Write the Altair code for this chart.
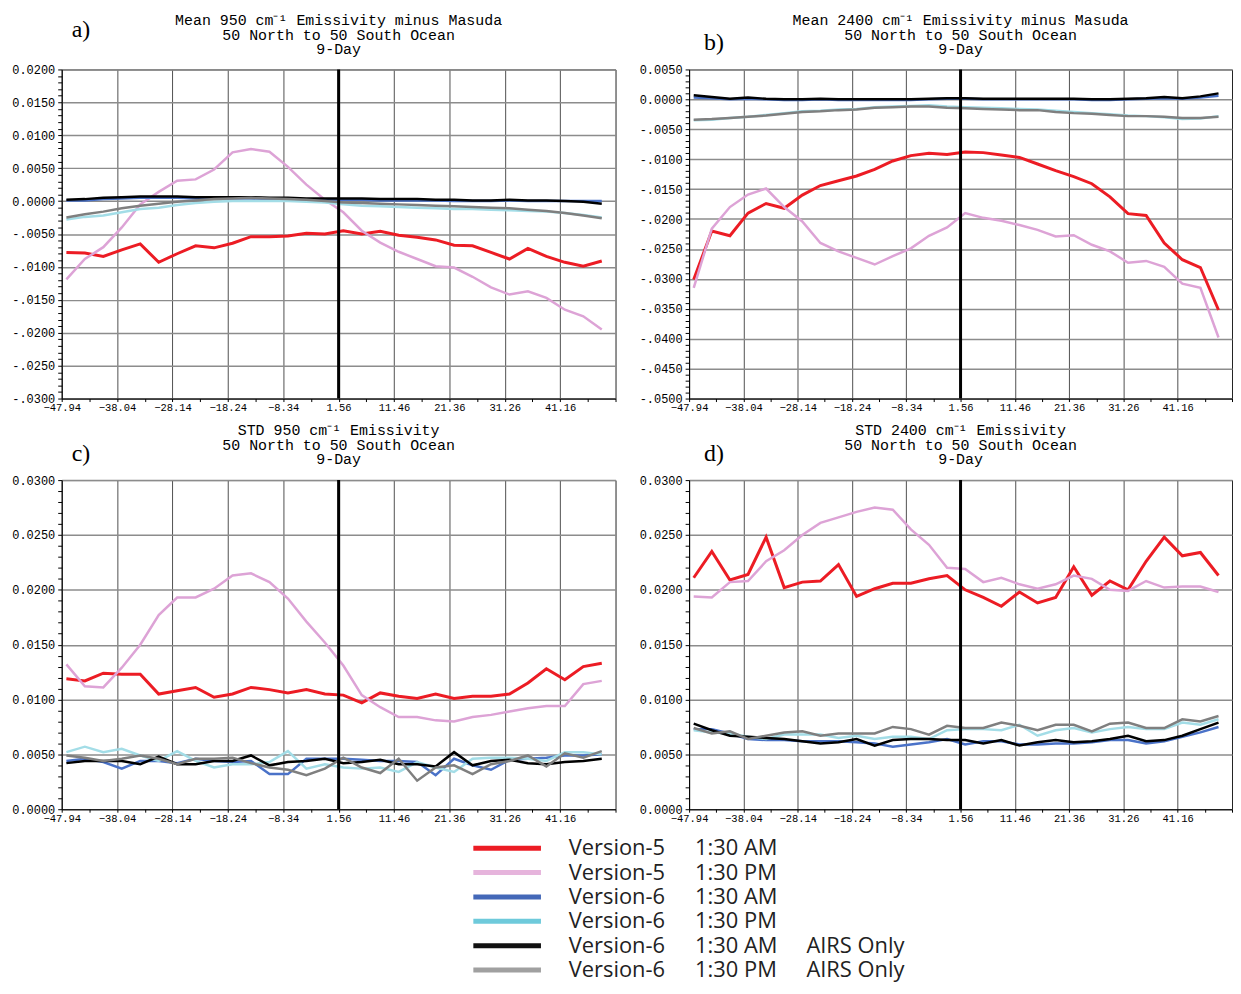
import altair as alt
import pandas as pd

# ---------------- data ----------------
lat = [-47.1, -43.8, -40.5, -37.2, -33.9, -30.6, -27.3, -24.0, -20.7, -17.4,
       -14.1, -10.8, -7.5, -4.2, -0.9, 2.4, 5.7, 9.0, 12.3, 15.6,
       18.9, 22.2, 25.5, 28.8, 32.1, 35.4, 38.7, 42.0, 45.3, 48.6]

series_names = ["Version-5 1:30 AM", "Version-5 1:30 PM", "Version-6 1:30 AM",
                "Version-6 1:30 PM", "Version-6 1:30 AM AIRS Only", "Version-6 1:30 PM AIRS Only"]
series_colors = ["#ec1c24", "#dda3d6", "#4a72c8", "#a3dde7", "#000000", "#7f7f7f"]
legend_colors = ["#ec1c24", "#e6b4dc", "#4468b8", "#6ecadb", "#111111", "#a0a0a0"]
legend_version = ["Version-5", "Version-5", "Version-6", "Version-6", "Version-6", "Version-6"]
legend_time = ["1:30 AM", "1:30 PM", "1:30 AM", "1:30 PM", "1:30 AM", "1:30 PM"]
legend_extra = ["", "", "", "", "AIRS Only", "AIRS Only"]

x_tick_labels = [-47.94, -38.04, -28.14, -18.24, -8.34, 1.56, 11.46, 21.36, 31.26, 41.16]
x_domain = [-47.94, 51.06]
equator_line = [1.56]

# panel a: Mean 950 cm-1 minus Masuda
a_v5_am = [-0.0078, -0.0079, -0.0084, -0.0074, -0.0065, -0.0093, -0.0080, -0.0068, -0.0071, -0.0064,
           -0.0054, -0.0054, -0.0053, -0.0049, -0.0050, -0.0045, -0.0050, -0.0046, -0.0052, -0.0055,
           -0.0059, -0.0067, -0.0068, -0.0078, -0.0088, -0.0072, -0.0084, -0.0093, -0.0099, -0.0091]
a_v5_pm = [-0.0119, -0.0088, -0.0070, -0.0040, -0.0005, 0.0014, 0.0031, 0.0033, 0.0048, 0.0074,
           0.0079, 0.0075, 0.0052, 0.0025, 0.0002, -0.0017, -0.0045, -0.0063, -0.0077, -0.0088,
           -0.0099, -0.0101, -0.0115, -0.0131, -0.0142, -0.0137, -0.0147, -0.0165, -0.0175, -0.0195]
a_v6_am = [0.0001, 0.0001, 0.0003, 0.0004, 0.0005, 0.0005, 0.0005, 0.0004, 0.0004, 0.0004,
           0.0004, 0.0003, 0.0003, 0.0002, 0.0002, 0.0002, 0.0002, 0.0001, 0.0001, 0.0001,
           0.0001, 0.0000, 0.0000, 0.0000, 0.0001, 0.0000, 0.0000, 0.0000, 0.0000, 0.0000]
a_v6_pm = [-0.0028, -0.0024, -0.0022, -0.0017, -0.0012, -0.0010, -0.0006, -0.0003, -0.0001, 0.0000,
           0.0000, 0.0000, 0.0000, -0.0001, -0.0002, -0.0005, -0.0007, -0.0008, -0.0009, -0.0010,
           -0.0011, -0.0012, -0.0012, -0.0013, -0.0014, -0.0015, -0.0016, -0.0018, -0.0021, -0.0025]
a_v6_am_airs = [0.0002, 0.0003, 0.0005, 0.0006, 0.0007, 0.0007, 0.0007, 0.0006, 0.0006, 0.0006,
                0.0006, 0.0005, 0.0005, 0.0004, 0.0004, 0.0004, 0.0004, 0.0003, 0.0003, 0.0003,
                0.0002, 0.0002, 0.0001, 0.0001, 0.0002, 0.0001, 0.0001, 0.0000, -0.0001, -0.0004]
a_v6_pm_airs = [-0.0025, -0.0020, -0.0016, -0.0011, -0.0007, -0.0004, -0.0001, 0.0001, 0.0003, 0.0004,
                0.0005, 0.0004, 0.0003, 0.0002, 0.0000, -0.0002, -0.0003, -0.0004, -0.0005, -0.0006,
                -0.0007, -0.0008, -0.0009, -0.0010, -0.0011, -0.0013, -0.0015, -0.0018, -0.0022, -0.0026]

# panel b: Mean 2400 cm-1 minus Masuda
b_v5_am = [-0.0301, -0.0220, -0.0228, -0.0190, -0.0174, -0.0182, -0.0160, -0.0144, -0.0136, -0.0128,
           -0.0117, -0.0103, -0.0094, -0.0090, -0.0092, -0.0088, -0.0089, -0.0093, -0.0097, -0.0108,
           -0.0119, -0.0129, -0.0141, -0.0163, -0.0191, -0.0194, -0.0240, -0.0268, -0.0281, -0.0352]
b_v5_pm = [-0.0315, -0.0216, -0.0180, -0.0159, -0.0149, -0.0180, -0.0204, -0.0240, -0.0254, -0.0265,
           -0.0276, -0.0262, -0.0249, -0.0228, -0.0214, -0.0190, -0.0198, -0.0203, -0.0210, -0.0218,
           -0.0229, -0.0227, -0.0243, -0.0254, -0.0273, -0.0270, -0.0280, -0.0308, -0.0315, -0.0398]
b_v6_am = [0.0003, 0.0002, 0.0000, 0.0001, 0.0000, -0.0001, -0.0001, 0.0000, -0.0001, -0.0001,
           -0.0001, -0.0001, -0.0001, 0.0000, 0.0001, 0.0001, 0.0000, 0.0000, 0.0000, 0.0000,
           0.0000, 0.0000, -0.0001, -0.0001, 0.0000, 0.0001, 0.0002, 0.0001, 0.0003, 0.0006]
b_v6_pm = [-0.0035, -0.0034, -0.0031, -0.0029, -0.0026, -0.0023, -0.0020, -0.0019, -0.0017, -0.0016,
           -0.0013, -0.0012, -0.0011, -0.0010, -0.0012, -0.0013, -0.0014, -0.0015, -0.0016, -0.0017,
           -0.0019, -0.0021, -0.0023, -0.0025, -0.0027, -0.0028, -0.0030, -0.0033, -0.0032, -0.0028]
b_v6_am_airs = [0.0007, 0.0004, 0.0001, 0.0003, 0.0001, 0.0000, 0.0000, 0.0001, 0.0000, 0.0000,
                0.0000, 0.0000, 0.0000, 0.0001, 0.0002, 0.0002, 0.0001, 0.0001, 0.0001, 0.0001,
                0.0001, 0.0001, 0.0000, 0.0000, 0.0001, 0.0002, 0.0004, 0.0002, 0.0005, 0.0010]
b_v6_pm_airs = [-0.0034, -0.0033, -0.0031, -0.0029, -0.0027, -0.0024, -0.0021, -0.0020, -0.0018, -0.0017,
                -0.0014, -0.0013, -0.0012, -0.0012, -0.0014, -0.0015, -0.0016, -0.0017, -0.0018, -0.0018,
                -0.0021, -0.0023, -0.0024, -0.0026, -0.0028, -0.0028, -0.0029, -0.0031, -0.0031, -0.0029]

# panel c: STD 950 cm-1
c_v5_am = [0.0119, 0.0117, 0.0124, 0.0123, 0.0123, 0.0105, 0.0108, 0.0111, 0.0102, 0.0105,
           0.0111, 0.0109, 0.0106, 0.0109, 0.0105, 0.0104, 0.0097, 0.0106, 0.0103, 0.0101,
           0.0105, 0.0101, 0.0103, 0.0103, 0.0105, 0.0115, 0.0128, 0.0118, 0.0130, 0.0133]
c_v5_pm = [0.0132, 0.0112, 0.0111, 0.0129, 0.0150, 0.0177, 0.0193, 0.0193, 0.0201, 0.0213,
           0.0215, 0.0207, 0.0192, 0.0171, 0.0152, 0.0131, 0.0104, 0.0093, 0.0084, 0.0084,
           0.0081, 0.0080, 0.0084, 0.0086, 0.0089, 0.0092, 0.0094, 0.0094, 0.0114, 0.0117]
c_v6_am = [0.0044, 0.0046, 0.0043, 0.0037, 0.0044, 0.0044, 0.0042, 0.0046, 0.0044, 0.0043,
           0.0044, 0.0032, 0.0032, 0.0046, 0.0046, 0.0046, 0.0045, 0.0044, 0.0044, 0.0043,
           0.0031, 0.0046, 0.0040, 0.0036, 0.0045, 0.0046, 0.0047, 0.0049, 0.0049, 0.0050]
c_v6_pm = [0.0052, 0.0057, 0.0052, 0.0055, 0.0049, 0.0044, 0.0053, 0.0044, 0.0038, 0.0041,
           0.0041, 0.0043, 0.0053, 0.0037, 0.0041, 0.0038, 0.0037, 0.0038, 0.0034, 0.0043,
           0.0038, 0.0034, 0.0046, 0.0047, 0.0047, 0.0046, 0.0044, 0.0052, 0.0052, 0.0050]
c_v6_am_airs = [0.0042, 0.0044, 0.0044, 0.0044, 0.0041, 0.0048, 0.0041, 0.0041, 0.0044, 0.0044,
                0.0049, 0.0040, 0.0043, 0.0044, 0.0046, 0.0042, 0.0043, 0.0045, 0.0041, 0.0041,
                0.0039, 0.0052, 0.0040, 0.0044, 0.0045, 0.0042, 0.0041, 0.0043, 0.0044, 0.0046]
c_v6_pm_airs = [0.0049, 0.0047, 0.0044, 0.0046, 0.0049, 0.0046, 0.0041, 0.0046, 0.0046, 0.0047,
                0.0042, 0.0038, 0.0036, 0.0031, 0.0037, 0.0047, 0.0038, 0.0033, 0.0046, 0.0026,
                0.0038, 0.0040, 0.0032, 0.0041, 0.0044, 0.0049, 0.0039, 0.0051, 0.0047, 0.0053]

# panel d: STD 2400 cm-1
d_v5_am = [0.0211, 0.0235, 0.0209, 0.0214, 0.0248, 0.0202, 0.0207, 0.0208, 0.0223, 0.0194,
           0.0201, 0.0206, 0.0206, 0.0210, 0.0213, 0.0200, 0.0193, 0.0185, 0.0198, 0.0188,
           0.0193, 0.0221, 0.0195, 0.0208, 0.0200, 0.0226, 0.0248, 0.0231, 0.0234, 0.0213]
d_v5_pm = [0.0194, 0.0193, 0.0207, 0.0208, 0.0226, 0.0236, 0.0250, 0.0261, 0.0266, 0.0271,
           0.0275, 0.0273, 0.0255, 0.0241, 0.0220, 0.0219, 0.0207, 0.0211, 0.0205, 0.0201,
           0.0205, 0.0213, 0.0210, 0.0200, 0.0199, 0.0208, 0.0202, 0.0203, 0.0203, 0.0198]
d_v6_am = [0.0073, 0.0073, 0.0069, 0.0064, 0.0063, 0.0063, 0.0062, 0.0062, 0.0062, 0.0061,
           0.0060, 0.0057, 0.0059, 0.0061, 0.0064, 0.0059, 0.0062, 0.0062, 0.0059, 0.0059,
           0.0060, 0.0060, 0.0061, 0.0063, 0.0063, 0.0060, 0.0062, 0.0066, 0.0070, 0.0075]
d_v6_pm = [0.0072, 0.0070, 0.0069, 0.0066, 0.0064, 0.0068, 0.0068, 0.0068, 0.0065, 0.0067,
           0.0064, 0.0066, 0.0066, 0.0064, 0.0072, 0.0073, 0.0073, 0.0072, 0.0077, 0.0067,
           0.0072, 0.0074, 0.0070, 0.0073, 0.0075, 0.0073, 0.0073, 0.0079, 0.0077, 0.0082]
d_v6_am_airs = [0.0078, 0.0072, 0.0067, 0.0066, 0.0065, 0.0064, 0.0062, 0.0060, 0.0061, 0.0064,
                0.0058, 0.0063, 0.0064, 0.0064, 0.0063, 0.0063, 0.0060, 0.0063, 0.0058, 0.0061,
                0.0063, 0.0061, 0.0062, 0.0064, 0.0067, 0.0062, 0.0063, 0.0067, 0.0073, 0.0079]
d_v6_pm_airs = [0.0074, 0.0069, 0.0071, 0.0064, 0.0067, 0.0070, 0.0071, 0.0067, 0.0069, 0.0069,
                0.0069, 0.0075, 0.0073, 0.0068, 0.0076, 0.0074, 0.0074, 0.0079, 0.0076, 0.0072,
                0.0077, 0.0077, 0.0071, 0.0078, 0.0079, 0.0074, 0.0074, 0.0082, 0.0080, 0.0085]

a_major = [-0.03, -0.025, -0.02, -0.015, -0.01, -0.005, 0.0, 0.005, 0.01, 0.015, 0.02]
b_major = [-0.05, -0.045, -0.04, -0.035, -0.03, -0.025, -0.02, -0.015, -0.01, -0.005, 0.0, 0.005]
cd_major = [0.0, 0.005, 0.01, 0.015, 0.02, 0.025, 0.03]

title_a = ["Mean 950 cm⁻¹ Emissivity minus Masuda", "50 North to 50 South Ocean", "9-Day"]
title_b = ["Mean 2400 cm⁻¹ Emissivity minus Masuda", "50 North to 50 South Ocean", "9-Day"]
title_c = ["STD  950 cm⁻¹ Emissivity", "50 North to 50 South Ocean", "9-Day"]
title_d = ["STD  2400 cm⁻¹ Emissivity", "50 North to 50 South Ocean", "9-Day"]

# ---------------- helpers ----------------
MONO = "Liberation Mono"
x_tick_values = [round(x_domain[0] + 4.95 * i, 2) for i in range(21)]
X_MAJOR = "abs((datum.value + 47.94) / 9.9 - round((datum.value + 47.94) / 9.9)) < 0.01"
X_LABEL_EXPR = f"({X_MAJOR}) && datum.value < 45 ? format(datum.value, '.2f') : ''"
X_GRID_TEST = f"({X_MAJOR}) && datum.value > -47 && datum.value < 50"
Y_MAJOR = "abs(datum.value * 200 - round(datum.value * 200)) < 0.01"
Y_LABEL_EXPR = (f"({Y_MAJOR}) ? (datum.value < -0.00001 ? '-' + substring(format(-datum.value, '.4f'), 1)"
                f" : format(abs(datum.value), '.4f')) : ''")


def minor_values(major):
    lo, hi = min(major), max(major)
    n = int(round((hi - lo) / 0.001))
    return [round(lo + 0.001 * i, 4) for i in range(n + 1)]


def make_panel(values, major, title_lines, letter, letter_x, letter_y, width, height):
    xenc = alt.X("lat:Q", scale=alt.Scale(domain=x_domain, nice=False, zero=False),
                 axis=alt.Axis(values=x_tick_values, title=None, labelExpr=X_LABEL_EXPR,
                               labelOverlap=False, labelFlush=False, labelFont=MONO, labelFontSize=10.5,
                               labelPadding=1, tickSize=3, grid=True, gridColor="#505050",
                               gridWidth=1, domainColor="black", tickColor="black",
                               gridOpacity={"condition": {"test": X_GRID_TEST, "value": 1}, "value": 0}))
    yenc = alt.Y("value:Q", scale=alt.Scale(domain=[min(major), max(major)], nice=False, zero=False),
                 axis=alt.Axis(values=minor_values(major), title=None, labelExpr=Y_LABEL_EXPR,
                               labelOverlap=False, labelFlush=False, labelFont=MONO, labelFontSize=12,
                               labelPadding=3, tickSize=4, grid=True, gridColor="#8c8c8c",
                               gridWidth=1.5, domainColor="black", tickColor="black",
                               gridOpacity={"condition": {"test": Y_MAJOR, "value": 1}, "value": 0}))
    layers = []
    for name, color, vals in zip(series_names, series_colors, values):
        df = pd.DataFrame({"lat": lat, "value": vals, "series": name})
        sw = 3 if color == "#ec1c24" else 2.5
        layers.append(alt.Chart(df).mark_line(color=color, strokeWidth=sw).encode(x=xenc, y=yenc))
    rule = alt.Chart(pd.DataFrame({"lat": equator_line})).mark_rule(
        color="black", strokeWidth=3).encode(x=xenc)
    lab = alt.Chart(pd.DataFrame({"t": [letter]})).mark_text(
        font="Liberation Serif", fontSize=24, align="left", baseline="alphabetic", color="black"
    ).encode(x=alt.value(letter_x), y=alt.value(letter_y), text="t:N")
    title_layers = []
    for line, ty in zip(title_lines, [-45, -30, -16]):
        title_layers.append(alt.Chart(pd.DataFrame({"t": [line]})).mark_text(
            font=MONO, fontSize=15, align="center", baseline="alphabetic", color="black"
        ).encode(x=alt.value(width / 2), y=alt.value(ty), text="t:N"))
    return alt.layer(*layers, rule, lab, *title_layers).properties(width=width, height=height)


panel_a = make_panel([a_v5_am, a_v5_pm, a_v6_am, a_v6_pm, a_v6_am_airs, a_v6_pm_airs], a_major,
                     title_a, "a)", 10, -33, 557, 331)
panel_b = make_panel([b_v5_am, b_v5_pm, b_v6_am, b_v6_pm, b_v6_am_airs, b_v6_pm_airs], b_major,
                     title_b, "b)", 15, -20, 546, 331)
panel_c = make_panel([c_v5_am, c_v5_pm, c_v6_am, c_v6_pm, c_v6_am_airs, c_v6_pm_airs], cd_major,
                     title_c, "c)", 10, -19, 557, 331)
panel_d = make_panel([d_v5_am, d_v5_pm, d_v6_am, d_v6_pm, d_v6_am_airs, d_v6_pm_airs], cd_major,
                     title_d, "d)", 15, -19, 546, 331)

# ---------------- legend ----------------
legend_df = pd.DataFrame({"series": series_names, "version": legend_version,
                          "time": legend_time, "extra": legend_extra})
ly = alt.Y("series:N", sort=series_names, axis=None, scale=alt.Scale(padding=0))
leg_lines = alt.Chart(legend_df).mark_rule(strokeWidth=5).encode(
    y=ly, x=alt.value(414), x2=alt.value(482),
    color=alt.Color("series:N", scale=alt.Scale(domain=series_names, range=legend_colors), legend=None))
txt_style = dict(align="left", baseline="middle", font="Open Sans", fontSize=22, color="#222222")
leg_v = alt.Chart(legend_df).mark_text(**txt_style).encode(y=ly, x=alt.value(510), text="version:N")
leg_t = alt.Chart(legend_df).mark_text(**txt_style).encode(y=ly, x=alt.value(637), text="time:N")
leg_e = alt.Chart(legend_df).mark_text(**txt_style).encode(y=ly, x=alt.value(749), text="extra:N")
legend = alt.layer(leg_lines, leg_v, leg_t, leg_e).properties(
    width=900, height=147, view=alt.ViewBackground(stroke="transparent"))

top = alt.hconcat(panel_a, panel_b, spacing=22)
bottom = alt.hconcat(panel_c, panel_d, spacing=22)
grid = alt.vconcat(top, bottom, spacing=9)
chart = alt.vconcat(grid, legend, spacing=11).properties(
    padding={"left": 3, "top": 1, "right": 0, "bottom": 0}
).configure_view(stroke="#222222", strokeWidth=1).configure_axis(labelColor="black")

chart.save("out.html", embed_options={"renderer": "svg", "actions": False})
